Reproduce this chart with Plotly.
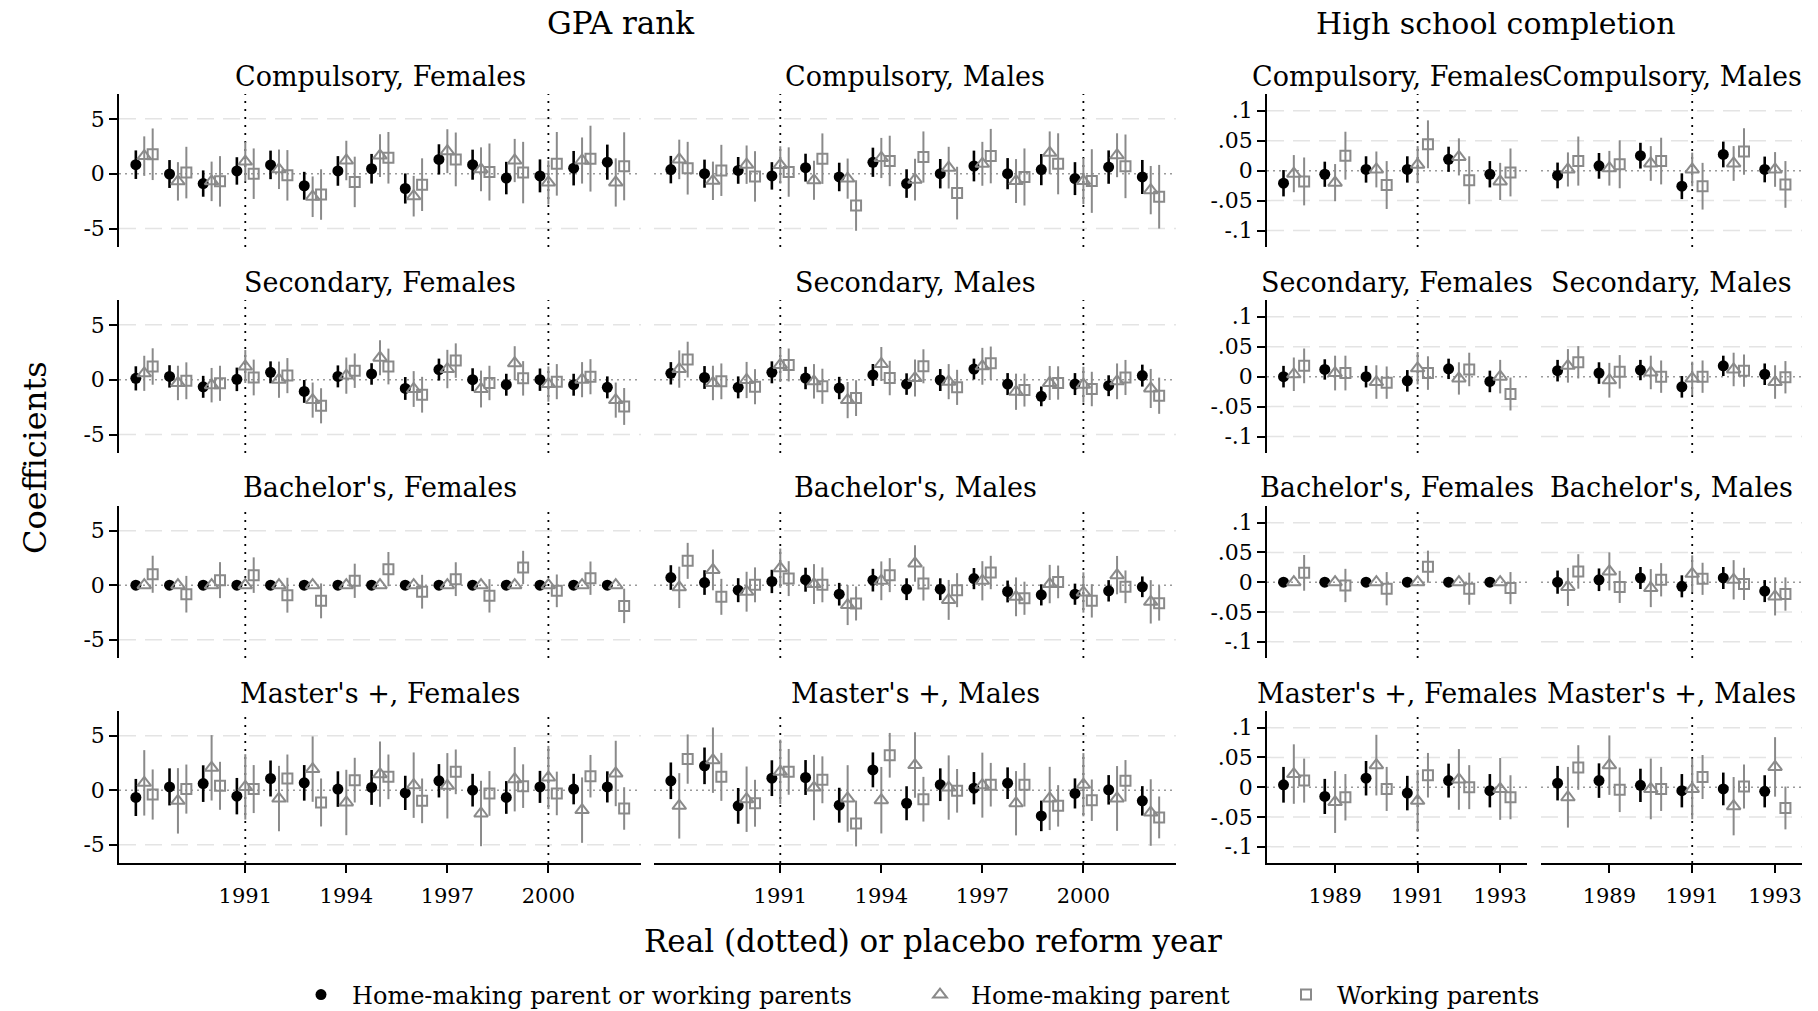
import plotly.graph_objects as go

# ---------------- data ----------------
years_gpa = [1988, 1989, 1990, 1991, 1992, 1993, 1994, 1995, 1996, 1997, 1998, 1999, 2000, 2001, 2002]
years_hs = [1988, 1989, 1990, 1991, 1992, 1993]
reform_gpa = [1991, 2000]
reform_hs = [1991]
gpa_xticks = [1991, 1994, 1997, 2000]
hs_xticks = [1989, 1991, 1993]
gpa_yticks = [-5, 0, 5]
gpa_yticktext = ["-5", "0", "5"]
hs_yticks = [-0.1, -0.05, 0, 0.05, 0.1]
hs_yticktext = ["-.1", "-.05", "0", ".05", ".1"]
gpa_grid = [-5, 5]
hs_grid = [-0.1, -0.05, 0.05, 0.1]

series_names = ["Home-making parent or working parents", "Home-making parent", "Working parents"]
levels = ["Compulsory", "Secondary", "Bachelor's", "Master's +"]
sexes = ["Females", "Males"]
outcomes = ["GPA rank", "High school completion"]

# GPA rank: coefficient and CI half-width per series
gpa_comp_f_all = [0.82, -0.03, -0.9, 0.25, 0.8, -1.1, 0.25, 0.45, -1.35, 1.3, 0.82, -0.4, -0.2, 0.5, 1.05]
gpa_comp_f_all_ci = [1.3, 1.27, 1.2, 1.25, 1.3, 1.27, 1.35, 1.35, 1.37, 1.38, 1.37, 1.48, 1.5, 1.57, 1.6]
gpa_comp_f_home = [1.6, -0.7, -0.7, 1.1, 0.4, -2.1, 1.2, 1.65, -2.05, 2.05, 0.4, 1.2, -0.8, 1.2, -0.8]
gpa_comp_f_home_ci = [1.8, 1.75, 1.8, 1.8, 1.8, 1.85, 1.8, 1.95, 1.85, 2.0, 2.0, 1.97, 2.0, 2.1, 2.2]
gpa_comp_f_work = [1.77, 0.1, -0.7, 0.0, -0.15, -1.9, -0.75, 1.45, -1.0, 1.3, 0.15, 0.1, 0.9, 1.37, 0.67]
gpa_comp_f_work_ci = [2.35, 2.35, 2.3, 2.3, 2.3, 2.3, 2.3, 2.35, 2.4, 2.45, 2.6, 2.8, 2.9, 3.0, 3.1]

gpa_comp_m_all = [0.37, 0.0, 0.3, -0.2, 0.55, -0.3, 1.04, -0.9, 0.0, 0.7, 0.0, 0.37, -0.45, 0.6, -0.3]
gpa_comp_m_all_ci = [1.25, 1.28, 1.22, 1.25, 1.27, 1.3, 1.33, 1.3, 1.34, 1.4, 1.42, 1.42, 1.5, 1.52, 1.55]
gpa_comp_m_home = [1.3, -0.65, 0.82, 0.8, -0.6, -0.45, 1.43, -0.55, 0.55, 0.9, -0.67, 1.9, -0.67, 1.68, -1.5]
gpa_comp_m_home_ci = [1.8, 1.75, 1.75, 1.7, 1.78, 1.83, 1.83, 1.9, 1.9, 2.0, 2.0, 1.95, 2.1, 2.0, 2.2]
gpa_comp_m_work = [0.5, 0.3, -0.25, 0.15, 1.37, -2.9, 1.16, 1.52, -1.77, 1.6, -0.3, 0.9, -0.67, 0.67, -2.1]
gpa_comp_m_work_ci = [2.4, 2.33, 2.3, 2.25, 2.3, 2.3, 2.3, 2.33, 2.4, 2.48, 2.6, 2.78, 2.9, 2.9, 2.9]

gpa_sec_f_all = [0.12, 0.3, -0.65, 0.03, 0.67, -1.07, 0.3, 0.52, -0.8, 0.92, 0.0, -0.46, 0.0, -0.46, -0.7]
gpa_sec_f_all_ci = [1.1, 1.02, 1.0, 1.07, 1.0, 1.04, 1.0, 0.98, 1.04, 1.0, 1.04, 1.0, 1.02, 1.0, 1.0]
gpa_sec_f_home = [0.58, -0.3, -0.5, 1.2, 0.0, -1.86, 0.37, 2.0, -0.85, 0.97, -0.85, 1.5, -0.4, 0.0, -1.86]
gpa_sec_f_home_ci = [1.6, 1.57, 1.57, 1.5, 1.65, 1.6, 1.65, 1.6, 1.63, 1.75, 1.68, 1.55, 1.6, 1.6, 1.6]
gpa_sec_f_work = [1.2, -0.1, -0.33, 0.2, 0.37, -2.38, 0.82, 1.2, -1.37, 1.74, -0.3, 0.12, -0.18, 0.27, -2.44]
gpa_sec_f_work_ci = [1.66, 1.68, 1.6, 1.63, 1.6, 1.6, 1.57, 1.63, 1.63, 1.57, 1.57, 1.57, 1.6, 1.6, 1.68]

gpa_sec_m_all = [0.58, 0.2, -0.7, 0.67, 0.15, -0.76, 0.43, -0.4, -0.03, 0.97, -0.4, -1.52, -0.4, -0.55, 0.37]
gpa_sec_m_all_ci = [1.02, 1.04, 1.0, 1.0, 1.02, 1.02, 1.0, 0.98, 1.0, 0.95, 1.0, 0.9, 1.0, 0.95, 1.0]
gpa_sec_m_home = [0.97, -0.3, -0.03, 1.34, -0.15, -1.86, 1.43, 0.15, -0.18, 1.22, -1.1, -0.3, -0.46, -0.15, -0.8]
gpa_sec_m_home_ci = [1.7, 1.57, 1.65, 1.55, 1.57, 1.65, 1.55, 1.68, 1.6, 1.68, 1.65, 1.55, 1.63, 1.63, 1.78]
gpa_sec_m_work = [1.83, -0.15, -0.64, 1.34, -0.6, -1.68, 0.15, 1.22, -0.7, 1.5, -0.95, -0.3, -0.85, 0.2, -1.46]
gpa_sec_m_work_ci = [1.63, 1.63, 1.6, 1.5, 1.6, 1.63, 1.57, 1.55, 1.6, 1.52, 1.5, 1.52, 1.57, 1.6, 1.65]

gpa_bach_f_all = [0, 0, 0, 0, 0, 0, 0, 0, 0, 0, 0, 0, 0, 0, 0]
gpa_bach_f_all_ci = [0, 0, 0, 0, 0, 0, 0, 0, 0, 0, 0, 0, 0, 0, 0]
gpa_bach_f_home = [0, 0, 0, 0, 0, 0, 0, 0, 0, 0, 0, 0, 0, 0, 0]
gpa_bach_f_home_ci = [0, 0, 0, 0, 0, 0, 0, 0, 0, 0, 0, 0, 0, 0, 0]
gpa_bach_f_work = [1.0, -0.83, 0.46, 0.92, -0.92, -1.44, 0.4, 1.47, -0.6, 0.55, -0.98, 1.62, -0.52, 0.64, -1.9]
gpa_bach_f_work_ci = [1.7, 1.68, 1.65, 1.63, 1.6, 1.6, 1.57, 1.57, 1.55, 1.55, 1.53, 1.53, 1.5, 1.53, 1.58]

gpa_bach_m_all = [0.7, 0.24, -0.46, 0.34, 0.5, -0.83, 0.46, -0.37, -0.37, 0.6, -0.58, -0.89, -0.83, -0.52, -0.15]
gpa_bach_m_all_ci = [1.13, 1.13, 1.1, 1.07, 1.1, 1.04, 1.04, 1.0, 1.0, 0.97, 1.0, 0.97, 0.97, 0.98, 0.95]
gpa_bach_m_home = [-0.2, 1.4, -0.6, 1.56, 0.1, -1.83, 0.4, 1.99, -1.35, 0.4, -1.07, 0.1, -0.67, 0.92, -1.53]
gpa_bach_m_home_ci = [1.9, 1.87, 1.83, 1.8, 1.83, 1.83, 1.78, 1.68, 1.83, 1.8, 1.78, 1.76, 1.85, 1.76, 1.99]
gpa_bach_m_work = [2.23, -1.07, 0.03, 0.6, 0.03, -1.68, 0.92, 0.15, -0.46, 1.16, -1.2, 0.3, -1.44, -0.15, -1.65]
gpa_bach_m_work_ci = [1.65, 1.65, 1.6, 1.6, 1.6, 1.56, 1.56, 1.56, 1.56, 1.53, 1.52, 1.5, 1.53, 1.5, 1.6]

gpa_mast_f_all = [-0.67, 0.3, 0.6, -0.55, 1.07, 0.67, 0.1, 0.25, -0.25, 0.86, 0.0, -0.67, 0.3, 0.1, 0.3]
gpa_mast_f_all_ci = [1.7, 1.7, 1.68, 1.67, 1.65, 1.63, 1.63, 1.6, 1.57, 1.53, 1.5, 1.5, 1.47, 1.4, 1.43]
gpa_mast_f_home = [0.67, -0.98, 2.05, 0.3, -0.77, 1.93, -1.13, 1.47, 0.46, 0.4, -2.14, 1.0, 1.16, -1.83, 1.53]
gpa_mast_f_home_ci = [3.0, 3.0, 3.0, 3.0, 3.0, 3.0, 3.0, 3.0, 3.0, 3.0, 3.0, 2.95, 2.9, 3.0, 3.0]
gpa_mast_f_work = [-0.4, 0.1, 0.4, 0.1, 1.07, -1.13, 0.92, 1.22, -0.98, 1.68, -0.3, 0.37, -0.3, 1.28, -1.68]
gpa_mast_f_work_ci = [2.3, 2.25, 2.2, 2.2, 2.2, 2.2, 2.05, 2.05, 2.05, 2.05, 2.05, 2.0, 2.0, 1.95, 1.95]

gpa_mast_m_all = [0.86, 2.23, -1.44, 1.1, 1.16, -1.38, 1.86, -1.2, 0.5, 0.18, 0.64, -2.36, -0.3, 0.03, -0.98]
gpa_mast_m_all_ci = [1.68, 1.68, 1.64, 1.64, 1.6, 1.6, 1.6, 1.56, 1.5, 1.48, 1.45, 1.4, 1.38, 1.35, 1.35]
gpa_mast_m_home = [-1.44, 2.75, -0.83, 1.68, 0.24, -0.76, -0.92, 2.3, 0.24, 0.46, -1.2, -0.76, 0.5, -0.76, -2.05]
gpa_mast_m_home_ci = [3.0, 3.0, 3.0, 2.95, 3.0, 3.05, 3.05, 3.0, 2.95, 2.98, 2.95, 2.9, 2.9, 2.97, 3.05]
gpa_mast_m_work = [2.85, 1.22, -1.2, 1.68, 0.95, -3.06, 3.2, -0.83, -0.06, 0.5, 0.5, -1.44, -0.92, 0.86, -2.5]
gpa_mast_m_work_ci = [2.26, 2.2, 2.15, 2.1, 2.15, 2.1, 2.05, 2.05, 2.0, 2.0, 2.0, 1.9, 1.9, 1.9, 1.92]

# High school completion
hs_comp_f_all = [-0.021, -0.006, 0.002, 0.002, 0.019, -0.006]
hs_comp_f_all_ci = [0.022, 0.021, 0.022, 0.022, 0.021, 0.022]
hs_comp_f_home = [-0.005, -0.02, 0.002, 0.01, 0.023, -0.018]
hs_comp_f_home_ci = [0.031, 0.031, 0.03, 0.031, 0.031, 0.031]
hs_comp_f_work = [-0.018, 0.025, -0.024, 0.044, -0.016, -0.003]
hs_comp_f_work_ci = [0.04, 0.04, 0.04, 0.04, 0.04, 0.04]

hs_comp_m_all = [-0.008, 0.008, 0.025, -0.026, 0.027, 0.002]
hs_comp_m_all_ci = [0.0215, 0.0215, 0.0215, 0.0215, 0.0215, 0.0215]
hs_comp_m_home = [0.002, 0.004, 0.012, 0.002, 0.012, 0.002]
hs_comp_m_home_ci = [0.0285, 0.029, 0.029, 0.028, 0.029, 0.029]
hs_comp_m_work = [0.016, 0.0106, 0.016, -0.026, 0.032, -0.023]
hs_comp_m_work_ci = [0.041, 0.04, 0.039, 0.039, 0.039, 0.039]

hs_sec_f_all = [0.0, 0.012, 0.0, -0.007, 0.013, -0.008]
hs_sec_f_all_ci = [0.018, 0.017, 0.018, 0.018, 0.017, 0.018]
hs_sec_f_home = [0.004, 0.006, -0.009, 0.014, -0.003, 0.0]
hs_sec_f_home_ci = [0.028, 0.029, 0.028, 0.027, 0.027, 0.028]
hs_sec_f_work = [0.018, 0.006, -0.01, 0.006, 0.012, -0.029]
hs_sec_f_work_ci = [0.029, 0.029, 0.027, 0.028, 0.028, 0.0275]

hs_sec_m_all = [0.01, 0.006, 0.011, -0.017, 0.018, 0.004]
hs_sec_m_all_ci = [0.018, 0.018, 0.017, 0.018, 0.017, 0.018]
hs_sec_m_home = [0.018, -0.006, 0.007, -0.003, 0.012, -0.009]
hs_sec_m_home_ci = [0.028, 0.029, 0.028, 0.028, 0.028, 0.028]
hs_sec_m_work = [0.024, 0.008, 0.0, 0.0, 0.01, -0.001]
hs_sec_m_work_ci = [0.027, 0.028, 0.027, 0.027, 0.027, 0.027]

hs_bach_f_all = [0, 0, 0, 0, 0, 0]
hs_bach_f_all_ci = [0, 0, 0, 0, 0, 0]
hs_bach_f_home = [0, 0, 0, 0, 0, 0]
hs_bach_f_home_ci = [0, 0, 0, 0, 0, 0]
hs_bach_f_work = [0.0156, -0.0056, -0.011, 0.026, -0.011, -0.01]
hs_bach_f_work_ci = [0.03, 0.028, 0.028, 0.027, 0.027, 0.027]

hs_bach_m_all = [0.0, 0.004, 0.007, -0.007, 0.007, -0.015]
hs_bach_m_all_ci = [0.0195, 0.019, 0.0185, 0.0185, 0.0185, 0.0185]
hs_bach_m_home = [-0.008, 0.018, -0.01, 0.014, 0.004, -0.024]
hs_bach_m_home_ci = [0.032, 0.032, 0.032, 0.031, 0.033, 0.032]
hs_bach_m_work = [0.018, -0.008, 0.004, 0.0056, -0.003, -0.02]
hs_bach_m_work_ci = [0.029, 0.027, 0.028, 0.027, 0.027, 0.028]

hs_mast_f_all = [0.004, -0.0156, 0.015, -0.01, 0.011, -0.006]
hs_mast_f_all_ci = [0.03, 0.0295, 0.029, 0.029, 0.0285, 0.028]
hs_mast_f_home = [0.022, -0.025, 0.037, -0.023, 0.013, -0.003]
hs_mast_f_home_ci = [0.05, 0.052, 0.051, 0.052, 0.051, 0.052]
hs_mast_f_work = [0.011, -0.017, -0.003, 0.02, 0.0, -0.017]
hs_mast_f_work_ci = [0.037, 0.039, 0.037, 0.0375, 0.037, 0.037]

hs_mast_m_all = [0.0067, 0.011, 0.003, -0.006, -0.003, -0.007]
hs_mast_m_all_ci = [0.029, 0.029, 0.028, 0.028, 0.0275, 0.027]
hs_mast_m_home = [-0.017, 0.037, -0.003, -0.003, -0.032, 0.034]
hs_mast_m_home_ci = [0.051, 0.05, 0.051, 0.051, 0.049, 0.05]
hs_mast_m_work = [0.033, -0.0044, -0.003, 0.017, 0.001, -0.035]
hs_mast_m_work_ci = [0.0375, 0.0375, 0.037, 0.037, 0.037, 0.036]

# (row, col, series lists)
panels = [
    (0, 0, [gpa_comp_f_all, gpa_comp_f_all_ci, gpa_comp_f_home, gpa_comp_f_home_ci, gpa_comp_f_work, gpa_comp_f_work_ci]),
    (0, 1, [gpa_comp_m_all, gpa_comp_m_all_ci, gpa_comp_m_home, gpa_comp_m_home_ci, gpa_comp_m_work, gpa_comp_m_work_ci]),
    (0, 2, [hs_comp_f_all, hs_comp_f_all_ci, hs_comp_f_home, hs_comp_f_home_ci, hs_comp_f_work, hs_comp_f_work_ci]),
    (0, 3, [hs_comp_m_all, hs_comp_m_all_ci, hs_comp_m_home, hs_comp_m_home_ci, hs_comp_m_work, hs_comp_m_work_ci]),
    (1, 0, [gpa_sec_f_all, gpa_sec_f_all_ci, gpa_sec_f_home, gpa_sec_f_home_ci, gpa_sec_f_work, gpa_sec_f_work_ci]),
    (1, 1, [gpa_sec_m_all, gpa_sec_m_all_ci, gpa_sec_m_home, gpa_sec_m_home_ci, gpa_sec_m_work, gpa_sec_m_work_ci]),
    (1, 2, [hs_sec_f_all, hs_sec_f_all_ci, hs_sec_f_home, hs_sec_f_home_ci, hs_sec_f_work, hs_sec_f_work_ci]),
    (1, 3, [hs_sec_m_all, hs_sec_m_all_ci, hs_sec_m_home, hs_sec_m_home_ci, hs_sec_m_work, hs_sec_m_work_ci]),
    (2, 0, [gpa_bach_f_all, gpa_bach_f_all_ci, gpa_bach_f_home, gpa_bach_f_home_ci, gpa_bach_f_work, gpa_bach_f_work_ci]),
    (2, 1, [gpa_bach_m_all, gpa_bach_m_all_ci, gpa_bach_m_home, gpa_bach_m_home_ci, gpa_bach_m_work, gpa_bach_m_work_ci]),
    (2, 2, [hs_bach_f_all, hs_bach_f_all_ci, hs_bach_f_home, hs_bach_f_home_ci, hs_bach_f_work, hs_bach_f_work_ci]),
    (2, 3, [hs_bach_m_all, hs_bach_m_all_ci, hs_bach_m_home, hs_bach_m_home_ci, hs_bach_m_work, hs_bach_m_work_ci]),
    (3, 0, [gpa_mast_f_all, gpa_mast_f_all_ci, gpa_mast_f_home, gpa_mast_f_home_ci, gpa_mast_f_work, gpa_mast_f_work_ci]),
    (3, 1, [gpa_mast_m_all, gpa_mast_m_all_ci, gpa_mast_m_home, gpa_mast_m_home_ci, gpa_mast_m_work, gpa_mast_m_work_ci]),
    (3, 2, [hs_mast_f_all, hs_mast_f_all_ci, hs_mast_f_home, hs_mast_f_home_ci, hs_mast_f_work, hs_mast_f_work_ci]),
    (3, 3, [hs_mast_m_all, hs_mast_m_all_ci, hs_mast_m_home, hs_mast_m_home_ci, hs_mast_m_work, hs_mast_m_work_ci]),
]

# ---------------- layout constants ----------------
W, H = 1818, 1011
FONT = "DejaVu Serif"
COL_PX = [(119, 641), (654, 1176), (1267, 1527), (1541, 1802)]
ROW_PX = [(94, 247), (300, 453), (506, 658), (711, 863)]
OFFS = [-0.25, 0.0, 0.25]
BLACK = "#000000"
GRAY = "#8a8a8a"
GRID = "#e4e4e4"
GPA_XR = [1987.25, 2002.75]
HS_XR = [1987.35, 1993.65]
GPA_YR = [-6.68, 7.26]
HS_YR = [-0.1275, 0.128]

marker_styles = [
    dict(symbol="circle", color=BLACK, size=11),
    dict(symbol="triangle-up-open", color=GRAY, size=12, line=dict(width=2, color=GRAY)),
    dict(symbol="square-open", color=GRAY, size=10, line=dict(width=2, color=GRAY)),
]
err_styles = [dict(color=BLACK, thickness=2.6), dict(color=GRAY, thickness=2), dict(color=GRAY, thickness=2)]
legend_ids = ["legend", "legend2", "legend3"]

fig = go.Figure()
shapes = []
annotations = []
layout_axes = {}

for k, (r, c, data) in enumerate(panels, start=1):
    is_gpa = c < 2
    years = years_gpa if is_gpa else years_hs
    xs = "x" if k == 1 else f"x{k}"
    ys = "y" if k == 1 else f"y{k}"
    for s in range(3):
        coef = data[2 * s]
        ci = data[2 * s + 1]
        fig.add_trace(go.Scatter(
            x=[yr + OFFS[s] for yr in years], y=coef,
            mode="markers", name=series_names[s],
            marker=marker_styles[s],
            error_y=dict(type="data", array=ci, visible=True, width=0, **err_styles[s]),
            xaxis=xs, yaxis=ys,
            showlegend=(k == 1), legend=legend_ids[s],
            cliponaxis=False,
        ))
    x0, x1 = COL_PX[c]
    y0, y1 = ROW_PX[r]
    xa = dict(domain=[x0 / W, x1 / W], range=GPA_XR if is_gpa else HS_XR, anchor=ys,
              showgrid=False, zeroline=False, fixedrange=True)
    if r == 3:
        xa.update(showline=True, linecolor=BLACK, linewidth=1.5, ticks="outside", ticklen=8,
                  tickwidth=1.5, tickcolor=BLACK, tickvals=gpa_xticks if is_gpa else hs_xticks,
                  ticklabelstandoff=5,
                  tickfont=dict(family=FONT, size=21, color=BLACK))
    else:
        xa.update(showline=False, showticklabels=False, ticks="")
    ya = dict(domain=[1 - y1 / H, 1 - y0 / H], range=GPA_YR if is_gpa else HS_YR, anchor=xs,
              showgrid=False, zeroline=False, fixedrange=True)
    if c in (0, 2):
        ya.update(showline=True, linecolor=BLACK, linewidth=1.5, ticks="outside", ticklen=8,
                  tickwidth=1.5, tickcolor=BLACK,
                  tickvals=gpa_yticks if is_gpa else hs_yticks,
                  ticktext=gpa_yticktext if is_gpa else hs_yticktext,
                  tickfont=dict(family=FONT, size=22, color=BLACK))
    else:
        ya.update(showline=False, showticklabels=False, ticks="")
    layout_axes["xaxis" if k == 1 else f"xaxis{k}"] = xa
    layout_axes["yaxis" if k == 1 else f"yaxis{k}"] = ya

    # grid lines
    for g in (gpa_grid if is_gpa else hs_grid):
        shapes.append(dict(type="line", xref=f"{xs} domain", yref=ys, x0=0, x1=1, y0=g, y1=g,
                           line=dict(color=GRID, width=1.5, dash="17px,9px"), layer="below"))
    # zero line
    shapes.append(dict(type="line", xref=f"{xs} domain", yref=ys, x0=0, x1=1, y0=0, y1=0,
                       line=dict(color="#9a9a9a", width=1.5, dash="2px,4px"), layer="below"))
    # reform lines
    for ry in (reform_gpa if is_gpa else reform_hs):
        shapes.append(dict(type="line", xref=xs, yref=f"{ys} domain", x0=ry, x1=ry, y0=0, y1=1,
                           line=dict(color=BLACK, width=1.8, dash="2px,6px"), layer="below"))
    # panel title
    annotations.append(dict(text=f"{levels[r]}, {sexes[c % 2]}", xref="paper", yref="paper",
                            x=(x0 + x1) / 2 / W, y=1 - (y0 - 18) / H, xanchor="center", yanchor="middle",
                            showarrow=False, font=dict(family=FONT, size=27, color=BLACK)))

annotations.append(dict(text=outcomes[0], xref="paper", yref="paper", x=620 / W, y=1 - 23 / H,
                        xanchor="center", yanchor="middle", showarrow=False,
                        font=dict(family=FONT, size=31, color=BLACK)))
annotations.append(dict(text=outcomes[1], xref="paper", yref="paper", x=1496 / W, y=1 - 23 / H,
                        xanchor="center", yanchor="middle", showarrow=False,
                        font=dict(family=FONT, size=30, color=BLACK)))
annotations.append(dict(text="Coefficients", xref="paper", yref="paper", x=35 / W, y=1 - 458 / H,
                        xanchor="center", yanchor="middle", textangle=-90, showarrow=False,
                        font=dict(family=FONT, size=32, color=BLACK)))
annotations.append(dict(text="Real (dotted) or placebo reform year", xref="paper", yref="paper",
                        x=933 / W, y=1 - 941 / H, xanchor="center", yanchor="middle", showarrow=False,
                        font=dict(family=FONT, size=31, color=BLACK)))

leg_common = dict(orientation="h", yanchor="middle", xanchor="left", y=1 - 995 / H,
                  bgcolor="rgba(0,0,0,0)", font=dict(family=FONT, size=24, color=BLACK),
                  itemwidth=52, itemclick=False, itemdoubleclick=False)
fig.update_layout(
    width=W, height=H, autosize=False,
    margin=dict(l=0, r=0, t=0, b=0, pad=0, autoexpand=False),
    paper_bgcolor="white", plot_bgcolor="white",
    font=dict(family=FONT, color=BLACK),
    shapes=shapes, annotations=annotations,
    legend=dict(x=290 / W, **leg_common),
    legend2=dict(x=909 / W, **leg_common),
    legend3=dict(x=1275 / W, **leg_common),
    **layout_axes,
)

fig.write_html("out.html", config={"displayModeBar": False},
               post_script="document.body.style.margin='0';document.body.style.overflow='hidden';")
